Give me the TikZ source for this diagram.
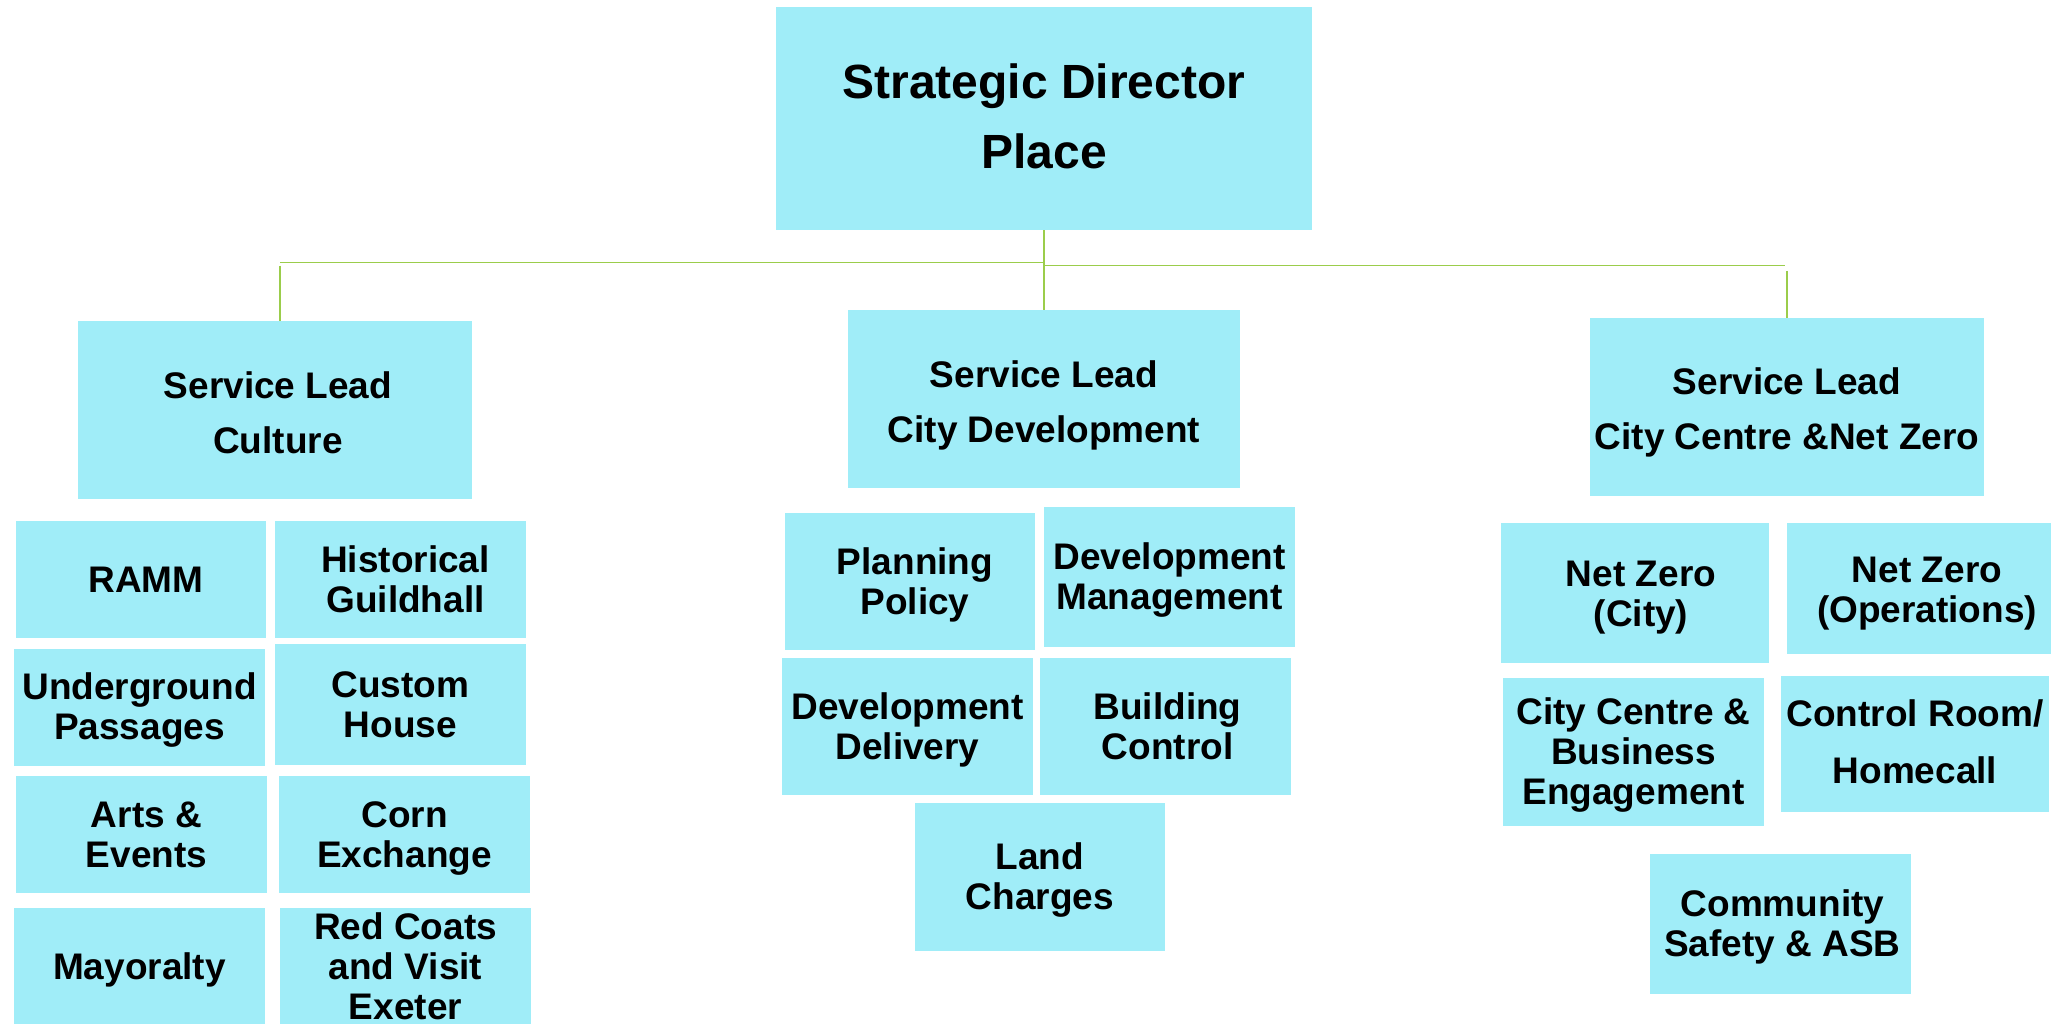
\documentclass[tikz,border=0pt]{standalone}
\usepackage{fontspec}
\setmainfont{Liberation Sans}
\definecolor{boxfill}{RGB}{160,237,248}
\definecolor{linegreen}{RGB}{155,205,75}
\begin{document}
\begin{tikzpicture}[x=1pt,y=-1pt,
  bx/.style={rectangle,fill=boxfill,draw=none,inner sep=0pt},
  lbl/.style={inner sep=0pt,align=center,font=\fontsize{37}{40}\selectfont\bfseries},
  lblbig/.style={lbl,font=\fontsize{48}{70}\selectfont\bfseries},
  lbllead/.style={lbl,font=\fontsize{37}{55}\selectfont\bfseries},
  conn/.style={draw=linegreen,line width=1.5pt}]
\useasboundingbox (0,0) rectangle (2051,1024);
% top
\node[bx,minimum width=536pt,minimum height=223pt,label={[lblbig,yshift=2pt]center:Strategic Director\\Place}] (top) at (1044,118.5) {};
% service leads
\node[bx,minimum width=393.5pt,minimum height=178pt,label={[lbllead,xshift=3pt,yshift=-3pt]center:Service Lead\\Culture}] (culture) at (275,410) {};
\node[bx,minimum width=392pt,minimum height=178pt,label={[lbllead,yshift=-6pt]center:Service Lead\\City Development}] (citydev) at (1044,399) {};
\node[bx,minimum width=393.5pt,minimum height=178pt,label={[lbllead,yshift=-5pt]center:Service Lead\\City Centre \&Net Zero}] (citycentre) at (1787,407) {};
% culture teams
\node[bx,minimum width=250pt,minimum height=117pt,label={[lbl,xshift=5pt]center:RAMM}] (ramm) at (141,579.5) {};
\node[bx,minimum width=251pt,minimum height=117pt,label={[lbl,xshift=5pt]center:Historical\\Guildhall}] (guild) at (400.5,579.5) {};
\node[bx,minimum width=251pt,minimum height=117pt,label={[lbl,yshift=-3pt]center:Underground\\Passages}] (under) at (139.5,707.5) {};
\node[bx,minimum width=251pt,minimum height=121pt,label={[lbl]center:Custom\\House}] (custom) at (400.5,704.5) {};
\node[bx,minimum width=251pt,minimum height=117pt,label={[lbl,xshift=5pt]center:Arts \&\\Events}] (arts) at (141.5,834.5) {};
\node[bx,minimum width=251pt,minimum height=117pt,label={[lbl,yshift=-4pt]center:Corn\\Exchange}] (corn) at (404.5,834.5) {};
\node[bx,minimum width=251pt,minimum height=116pt,label={[lbl,yshift=-4pt]center:Mayoralty}] (mayor) at (139.5,966) {};
\node[bx,minimum width=251pt,minimum height=116pt,label={[lbl]center:Red Coats\\and Visit\\Exeter}] (redcoats) at (405.5,966) {};
% city development teams
\node[bx,minimum width=250pt,minimum height=137pt,label={[lbl,xshift=5pt,yshift=-3pt]center:Planning\\Policy}] (planning) at (910,581.5) {};
\node[bx,minimum width=251pt,minimum height=140pt,label={[lbl,yshift=-3pt]center:Development\\Management}] (devmgmt) at (1169.5,577) {};
\node[bx,minimum width=251pt,minimum height=137pt,label={[lbl,yshift=-3pt]center:Development\\Delivery}] (devdel) at (907.5,726.5) {};
\node[bx,minimum width=251pt,minimum height=137pt,label={[lbl,xshift=2pt]center:Building\\Control}] (building) at (1165.5,726.5) {};
\node[bx,minimum width=250pt,minimum height=148pt,label={[lbl,yshift=-3pt]center:Land\\Charges}] (land) at (1040,877) {};
% city centre teams
\node[bx,minimum width=268pt,minimum height=140pt,label={[lbl,xshift=6pt,yshift=-5pt]center:Net Zero\\(City)}] (nzcity) at (1635,593) {};
\node[bx,minimum width=264pt,minimum height=131pt,label={[lbl,xshift=8pt,yshift=-5pt]center:Net Zero\\(Operations)}] (nzops) at (1919,588.5) {};
\node[bx,minimum width=261pt,minimum height=148pt,label={[lbl,yshift=-3pt]center:City Centre \&\\Business\\Engagement}] (ccbe) at (1633.5,752) {};
\node[bx,minimum width=268pt,minimum height=136pt,label={[lbl,font=\fontsize{37}{57}\selectfont\bfseries,yshift=2pt]center:Control Room/\\Homecall}] (control) at (1915,744) {};
\node[bx,minimum width=261pt,minimum height=140pt,label={[lbl,xshift=2pt,yshift=-3pt]center:Community\\Safety \& ASB}] (community) at (1780.5,924) {};
% connectors
\coordinate (jl) at (1044,262.7);
\coordinate (jlend) at (280,262.7);
\coordinate (jr) at (1044,265.7);
\coordinate (jrend) at (1785,265.7);
\coordinate (cl) at (280,265.7);
\coordinate (cr) at (1787,271);
\draw[conn] (top.south) -- (citydev.north);
\draw[conn] (jl) -- (jlend);
\draw[conn] (jr) -- (jrend);
\draw[conn] (cl) -- (cl |- culture.north);
\draw[conn] (cr) -- (cr |- citycentre.north);
\end{tikzpicture}
\end{document}
